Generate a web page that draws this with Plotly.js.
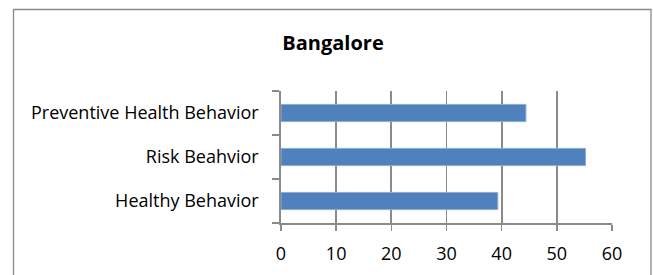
<!DOCTYPE html>
<html>
<head>
<meta charset="utf-8">
<script src="https://cdn.plot.ly/plotly-3.0.1.min.js"></script>
<style>
html,body{margin:0;padding:0;background:#fff;}
#chart{width:653px;height:275px;}
</style>
</head>
<body>
<div id="chart"></div>
<script>
const categories = ['Healthy Behavior', 'Risk Beahvior', 'Preventive Health Behavior'];
const values = [39.3, 55.2, 44.4];
const xTicks = [0, 10, 20, 30, 40, 50, 60];
const chartTitle = 'Bangalore';

const W = 653, H = 275;
const m = {l: 281, r: 41, t: 91, b: 52};
const pw = W - m.l - m.r, ph = H - m.t - m.b;
const px2x = p => (p - m.l) / pw;
const py2y = p => (H - m.b - p) / ph;

const trace = {
  type: 'bar',
  orientation: 'h',
  x: values,
  y: categories,
  marker: {color: '#4f81bd', line: {color: '#8fabd6', width: 1}},
  hoverinfo: 'x+y'
};

const layout = {
  width: W, height: H,
  margin: m,
  paper_bgcolor: '#ffffff',
  plot_bgcolor: '#ffffff',
  showlegend: false,
  bargap: 0.61,
  font: {family: 'Open Sans, sans-serif', color: '#1a1a1a'},
  title: {
    text: '<b>' + chartTitle + '</b>',
    xref: 'container', yref: 'container',
    x: 333 / W, y: 1 - 43 / H,
    xanchor: 'center', yanchor: 'middle',
    font: {family: 'Open Sans, sans-serif', size: 20, color: '#000'}
  },
  xaxis: {
    range: [0, 60],
    tickvals: xTicks,
    ticktext: xTicks.map(String),
    showgrid: true, gridcolor: '#8a8a8a', gridwidth: 1.7,
    showline: true, linecolor: '#8a8a8a', linewidth: 1.7,
    ticks: 'outside', ticklen: 6, tickcolor: '#8a8a8a', tickwidth: 1.5,
    ticklabelstandoff: 8,
    zeroline: false,
    tickfont: {size: 18, color: '#000'},
    fixedrange: true
  },
  yaxis: {
    type: 'category',
    categoryorder: 'array',
    categoryarray: categories,
    range: [-0.5, 2.5],
    showgrid: false,
    showline: true, linecolor: '#8a8a8a', linewidth: 1.7,
    ticks: 'outside', ticklen: 7, tickcolor: '#8a8a8a', tickwidth: 1.5,
    tickson: 'boundaries',
    ticklabelstandoff: 17,
    zeroline: false,
    tickfont: {size: 18, color: '#000'},
    fixedrange: true
  },
  shapes: [{
    type: 'rect', xref: 'paper', yref: 'paper',
    x0: px2x(13.5), x1: px2x(651), y0: py2y(285), y1: py2y(9.5),
    line: {color: '#8a8a8a', width: 1.3},
    fillcolor: 'rgba(0,0,0,0)', layer: 'below'
  }]
};

Plotly.newPlot('chart', [trace], layout, {displayModeBar: false, staticPlot: true});
</script>
</body>
</html>
